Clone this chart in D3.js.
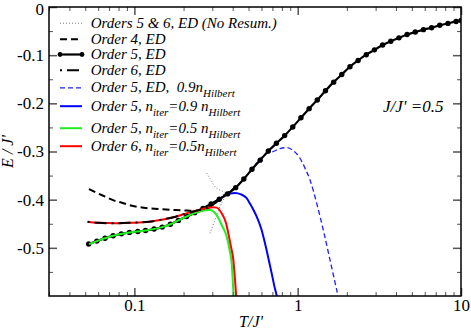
<!DOCTYPE html>
<html>
<head>
<meta charset="utf-8">
<script src="https://cdn.jsdelivr.net/npm/d3@7"></script>
<style>
  body { margin: 0; background: #fff; }
  text, tspan { font-family: "Liberation Serif", "Times New Roman", serif; }
</style>
</head>
<body>
<div id="d3"></div>
<script>
// ---- data (T/J', E/J') ----
var tempNoResumA   = [0.277, 0.295, 0.3116, 0.33, 0.35, 0.376, 0.42];
var energyNoResumA = [-0.345, -0.360, -0.373, -0.379, -0.383, -0.386, -0.373];
var tempNoResumB   = [0.290, 0.3116, 0.334, 0.359, 0.38, 0.42];
var energyNoResumB = [-0.47, -0.4422, -0.4147, -0.3943, -0.384, -0.373];

var tempO4   = [0.0527, 0.0589, 0.0667, 0.0741, 0.0832, 0.0927, 0.105, 0.123, 0.148, 0.166, 0.1965, 0.22, 0.249, 0.28, 0.31, 0.35, 0.417];
var energyO4 = [-0.378, -0.386, -0.394, -0.401, -0.406, -0.411, -0.415, -0.418, -0.420, -0.421, -0.422, -0.423, -0.424, -0.419, -0.406, -0.392, -0.375];

var tempO5   = [0.0525, 0.0589, 0.0661, 0.0741, 0.0832, 0.0933, 0.105, 0.117, 0.132, 0.148, 0.166, 0.186, 0.209, 0.234, 0.263, 0.295, 0.331, 0.372, 0.417, 0.468, 0.525, 0.589, 0.661, 0.741, 0.832, 0.933, 1.047, 1.175, 1.318, 1.479, 1.660, 1.862, 2.089, 2.344, 2.630, 2.951, 3.311, 3.715, 4.169, 4.677, 5.248, 5.888, 6.607, 7.413, 8.318, 9.333, 10];
var energyO5 = [-0.492, -0.486, -0.480, -0.475, -0.471, -0.468, -0.466, -0.464, -0.461, -0.457, -0.451, -0.443, -0.435, -0.427, -0.418, -0.409, -0.399, -0.388, -0.375, -0.357, -0.337, -0.318, -0.299, -0.283, -0.267, -0.249, -0.230, -0.211, -0.193, -0.174, -0.156, -0.140, -0.124, -0.111, -0.099, -0.089, -0.079, -0.071, -0.064, -0.057, -0.052, -0.047, -0.043, -0.038, -0.034, -0.030, -0.028];

var tempO6   = [0.0517, 0.06, 0.0768, 0.095, 0.123, 0.15, 0.179, 0.21, 0.249, 0.28, 0.31, 0.35, 0.417];
var energyO6 = [-0.4457, -0.448, -0.449, -0.448, -0.4457, -0.441, -0.4353, -0.428, -0.4214, -0.4165, -0.408, -0.393, -0.375];

var tempBlueDash   = [0.3, 0.372, 0.417, 0.468, 0.525, 0.58, 0.64, 0.709, 0.78, 0.856, 0.93, 1.033, 1.11, 1.19, 1.307, 1.435, 1.577, 1.70, 1.758, 1.78];
var energyBlueDash = [-0.407, -0.388, -0.375, -0.357, -0.337, -0.318, -0.305, -0.300, -0.294, -0.292, -0.297, -0.314, -0.335, -0.359, -0.4075, -0.463, -0.525, -0.575, -0.598, -0.61];

var tempBlue   = [0.2, 0.234, 0.263, 0.295, 0.331, 0.36, 0.385, 0.413, 0.45, 0.487, 0.51, 0.541, 0.561, 0.60, 0.6306, 0.66, 0.693, 0.72, 0.744, 0.76];
var energyBlue = [-0.439, -0.427, -0.418, -0.409, -0.399, -0.391, -0.387, -0.386, -0.389, -0.397, -0.408, -0.424, -0.4353, -0.462, -0.4906, -0.52, -0.553, -0.58, -0.60, -0.62];

var tempGreen   = [0.0527, 0.0589, 0.0741, 0.0933, 0.117, 0.148, 0.166, 0.186, 0.209, 0.234, 0.26, 0.29, 0.319, 0.342, 0.3675, 0.383, 0.394, 0.40, 0.405, 0.408];
var energyGreen = [-0.492, -0.486, -0.475, -0.468, -0.464, -0.457, -0.451, -0.443, -0.435, -0.428, -0.423, -0.4214, -0.432, -0.452, -0.477, -0.505, -0.532, -0.565, -0.600, -0.625];

var tempRed   = [0.0517, 0.06, 0.0768, 0.095, 0.123, 0.15, 0.179, 0.21, 0.249, 0.28, 0.304, 0.319, 0.342, 0.365, 0.376, 0.39, 0.4035, 0.412, 0.42, 0.425];
var energyRed = [-0.4457, -0.448, -0.449, -0.448, -0.4457, -0.441, -0.4353, -0.428, -0.4214, -0.417, -0.4155, -0.4165, -0.428, -0.450, -0.470, -0.497, -0.525, -0.560, -0.600, -0.625];

// ticks
var xMajor = [0.1, 1, 10];
var xMinor = [0.03, 0.04, 0.05, 0.06, 0.07, 0.08, 0.09, 0.2, 0.3, 0.4, 0.5, 0.6, 0.7, 0.8, 0.9, 2, 3, 4, 5, 6, 7, 8, 9];
var yMajor = [0, -0.1, -0.2, -0.3, -0.4, -0.5];
var yMinor = [-0.05, -0.15, -0.25, -0.35, -0.45, -0.55];

var legendLabels = [
  "Orders 5 & 6, ED (No Resum.)",
  "Order 4, ED",
  "Order 5, ED",
  "Order 6, ED",
  "Order 5, ED,  0.9n_{Hilbert}",
  "Order 5, n_{iter}=0.9 n_{Hilbert}",
  "Order 5, n_{iter}=0.5 n_{Hilbert}",
  "Order 6, n_{iter}=0.5n_{Hilbert}"
];

var serif = "'Liberation Serif', 'Times New Roman', serif";

// set the dimensions and margins of the graph
var margin = {top: 7, right: 10, bottom: 33, left: 49},
  width = 471 - margin.left - margin.right,
  height = 329 - margin.top - margin.bottom;

var svg = d3.select("#d3")
  .append("svg")
  .attr("width", 471)
  .attr("height", 329)
  .append("g")
  .attr("transform", "translate(" + margin.left + "," + margin.top + ")");

var x = d3.scaleLog().domain([0.03, 10]).range([0, width]);
var y = d3.scaleLinear().domain([-0.6, 0]).range([height, 0]);

svg.append("clipPath").attr("id", "clip")
  .append("rect").attr("width", width).attr("height", height);

function zip(ts, es) { return ts.map(function(t, i) { return {t: t, e: es[i]}; }); }

var line = d3.line()
  .x(function(d) { return x(d.t) })
  .y(function(d) { return y(d.e) })
  .curve(d3.curveMonotoneX);

// styles for each series
var styles = {
  noResum:  {stroke: "#777", width: 1, dash: "1,2"},
  o4:       {stroke: "#000", width: 2, dash: "7,4"},
  o5:       {stroke: "#000", width: 2.2, dash: null},
  o6:       {stroke: "#000", width: 2, dash: "2,5,12,5"},
  blueDash: {stroke: "#1f1fff", width: 1.3, dash: "5,3"},
  blue:     {stroke: "#0000ff", width: 2, dash: null},
  green:    {stroke: "#22ee22", width: 2, dash: null},
  red:      {stroke: "#ff0000", width: 2, dash: null}
};

// drawing order
var curves = [
  {data: zip(tempNoResumA, energyNoResumA), s: styles.noResum},
  {data: zip(tempNoResumB, energyNoResumB), s: styles.noResum},
  {data: zip(tempBlueDash, energyBlueDash), s: styles.blueDash},
  {data: zip(tempBlue, energyBlue), s: styles.blue},
  {data: zip(tempO4, energyO4), s: styles.o4},
  {data: zip(tempO5, energyO5), s: styles.o5, dots: true},
  {data: zip(tempGreen, energyGreen), s: styles.green},
  {data: zip(tempRed, energyRed), s: styles.red},
  {data: zip(tempO6, energyO6), s: styles.o6}
];

var plot = svg.append("g").attr("clip-path", "url(#clip)");

curves.forEach(function(c) {
  plot.append("path")
    .datum(c.data)
    .attr("fill", "none")
    .attr("stroke", c.s.stroke)
    .attr("stroke-width", c.s.width)
    .attr("stroke-dasharray", c.s.dash)
    .attr("d", line);
  if (c.dots) {
    plot.selectAll(null)
      .data(c.data)
      .enter().append("circle")
        .attr("cx", function(d) { return x(d.t) })
        .attr("cy", function(d) { return y(d.e) })
        .attr("r", 2.7)
        .attr("fill", "#000");
  }
});

// axes: inward ticks on all four sides
function styleAxis(g) {
  g.attr("font-family", serif);
  g.select(".domain").remove();
  g.selectAll(".tick line").attr("stroke", "#555");
  g.selectAll("text").attr("font-size", 17).attr("fill", "#000").attr("font-family", serif);
}

svg.append("g").attr("transform", "translate(0," + height + ")")
  .call(d3.axisBottom(x).tickValues(xMajor).tickSize(-8).tickPadding(3)
    .tickFormat(function(d) { return d < 1 ? "0.1" : String(d) }))
  .call(styleAxis).selectAll(".tick line").attr("stroke-width", 1.5);
svg.append("g").attr("transform", "translate(0," + height + ")")
  .call(d3.axisBottom(x).tickValues(xMinor).tickSize(-4).tickFormat(""))
  .call(styleAxis);
svg.append("g")
  .call(d3.axisTop(x).tickValues(xMajor).tickSize(-8).tickFormat(""))
  .call(styleAxis).selectAll(".tick line").attr("stroke-width", 1.5);
svg.append("g")
  .call(d3.axisTop(x).tickValues(xMinor).tickSize(-4).tickFormat(""))
  .call(styleAxis);

var yAxisG = svg.append("g")
  .call(d3.axisLeft(y).tickValues(yMajor).tickSize(-8).tickPadding(5)
    .tickFormat(function(d) { return d === 0 ? "0" : d.toFixed(1) }))
  .call(styleAxis);
yAxisG.selectAll(".tick line").attr("stroke-width", 1.5);
// keep the top "0" inside the picture
yAxisG.selectAll(".tick text").filter(function(d) { return d === 0 }).attr("dy", "0.45em");
svg.append("g")
  .call(d3.axisLeft(y).tickValues(yMinor).tickSize(-4).tickFormat(""))
  .call(styleAxis);
svg.append("g").attr("transform", "translate(" + width + ",0)")
  .call(d3.axisRight(y).tickValues(yMajor).tickSize(-8).tickFormat(""))
  .call(styleAxis).selectAll(".tick line").attr("stroke-width", 1.5);
svg.append("g").attr("transform", "translate(" + width + ",0)")
  .call(d3.axisRight(y).tickValues(yMinor).tickSize(-4).tickFormat(""))
  .call(styleAxis);

// frame
svg.append("rect")
  .attr("width", width).attr("height", height)
  .attr("fill", "none").attr("stroke", "#000").attr("stroke-width", 1.5);

// axis titles
svg.append("text")
  .attr("x", width / 2 - 4).attr("y", height + 31)
  .attr("text-anchor", "middle").attr("font-size", 16).attr("font-style", "italic")
  .attr("font-family", serif)
  .text("T/J'");
svg.append("text")
  .attr("transform", "translate(" + (-36) + "," + (height / 2) + ") rotate(-90)")
  .attr("text-anchor", "middle").attr("font-size", 16).attr("font-style", "italic")
  .attr("font-family", serif)
  .text("E / J'");

svg.append("text")
  .attr("x", 334).attr("y", 105)
  .attr("font-size", 17).attr("font-style", "italic")
  .attr("font-family", serif)
  .style("white-space", "pre")
  .text("J/J' =0.5");

// legend
var legendOrder = [styles.noResum, styles.o4, styles.o5, styles.o6, styles.blueDash, styles.blue, styles.green, styles.red];
var legendBase = [27.7, 43.7, 59, 74.7, 92.3, 110.7, 132.7, 150.7];
var legend = svg.append("g").attr("transform", "translate(" + (-margin.left) + "," + (-margin.top) + ")");

legendLabels.forEach(function(label, i) {
  var s = legendOrder[i], ly = legendBase[i] - 4.5;
  legend.append("line")
    .attr("x1", 60).attr("x2", 82).attr("y1", ly).attr("y2", ly)
    .attr("stroke", s.stroke).attr("stroke-width", s.width)
    .attr("stroke-dasharray", s.dash);
  if (s === styles.o5) {
    [60, 82].forEach(function(cx) {
      legend.append("circle").attr("cx", cx).attr("cy", ly).attr("r", 2.4).attr("fill", "#000");
    });
  }
  var t = legend.append("text")
    .attr("x", 90.7).attr("y", legendBase[i])
    .attr("font-size", 15).attr("font-style", "italic")
    .attr("font-family", serif)
    .style("white-space", "pre");
  var parts = label.split(/_\{([^}]*)\}/);
  var shifted = false;
  parts.forEach(function(p, k) {
    if (p === "") return;
    var sub = k % 2 === 1;
    var ts = t.append("tspan").text(p).attr("font-size", sub ? 11 : 15);
    if (sub && !shifted) { ts.attr("dy", 5); shifted = true; }
    else if (!sub && shifted) { ts.attr("dy", -5); shifted = false; }
  });
});
</script>
</body>
</html>
